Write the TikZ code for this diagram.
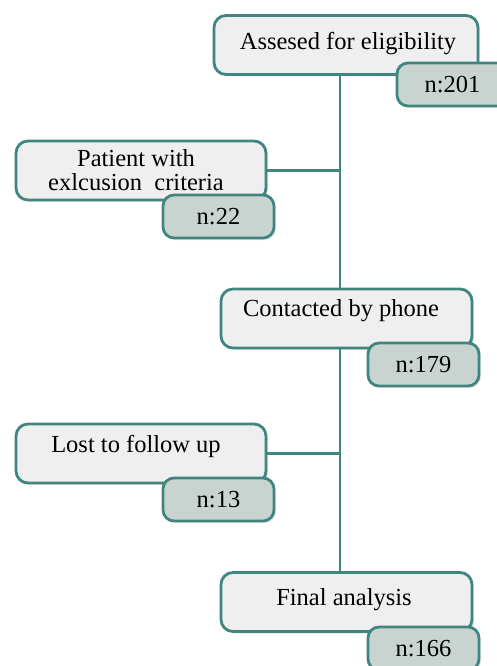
\documentclass[tikz,border=0pt]{standalone}
\usepackage{fontspec}
\setmainfont{Liberation Serif}
\usetikzlibrary{shadows,backgrounds}
\definecolor{teal1}{HTML}{41857F}
\definecolor{boxfill}{HTML}{EFEFEF}
\definecolor{nfill}{HTML}{C9D3D0}
\tikzset{
  x=1pt,y=1pt,
  mainbox/.style={draw=teal1, line width=2.8pt, fill=boxfill, rounded corners=12pt,
    minimum height=59pt, inner sep=0pt,
    drop shadow={opacity=0.18, shadow xshift=2pt, shadow yshift=-2pt}},
  nbox/.style={draw=teal1, line width=2.8pt, fill=nfill, rounded corners=11pt,
    minimum width=111pt, minimum height=43pt, inner sep=0pt, font=\fontsize{24.5}{26}\selectfont,
    drop shadow={opacity=0.18, shadow xshift=2pt, shadow yshift=-2pt}},
  conn/.style={draw=teal1, line width=2.2pt},
  txt/.style={font=\fontsize{24.5}{24}\selectfont, inner sep=0pt, align=center}
}
\begin{document}
\begin{tikzpicture}
\useasboundingbox (0,0) rectangle (497,-666);
\coordinate (vx) at (340,0);
% boxes
\node[mainbox, minimum width=264pt] (b1) at (346,-45) {};
\node[mainbox, minimum width=250pt] (b2) at (141,-170.5) {};
\node[mainbox, minimum width=251pt] (b3) at (346.5,-318.5) {};
\node[mainbox, minimum width=250pt] (b4) at (141,-453.5) {};
\node[mainbox, minimum width=251pt] (b5) at (346.5,-602) {};
% connectors behind boxes
\begin{pgfonlayer}{background}
\draw[conn] (vx |- b1.south) -- (vx |- b5.north);
\draw[conn] (b2.east) -- (b2.east -| vx);
\draw[conn] (b4.east) -- (b4.east -| vx);
\end{pgfonlayer}
% texts
\node[txt] (t1) at (348,-44) {Assesed for eligibility};
\node[txt] (t2) at (136,-170) {Patient with\\exlcusion\ \ criteria};
\node[txt] (t3) at (341,-311) {Contacted by phone};
\node[txt] (t4) at (136,-446) {Lost to follow up};
\node[txt] (t5) at (344,-600) {Final analysis};
% counts
\node[nbox] (n1) at (452.5,-84.5) {n:201};
\node[nbox] (n2) at (218.5,-216.5) {n:22};
\node[nbox] (n3) at (423.5,-364.5) {n:179};
\node[nbox] (n4) at (218.5,-499.5) {n:13};
\node[nbox] (n5) at (423.5,-648.5) {n:166};
\end{tikzpicture}
\end{document}
